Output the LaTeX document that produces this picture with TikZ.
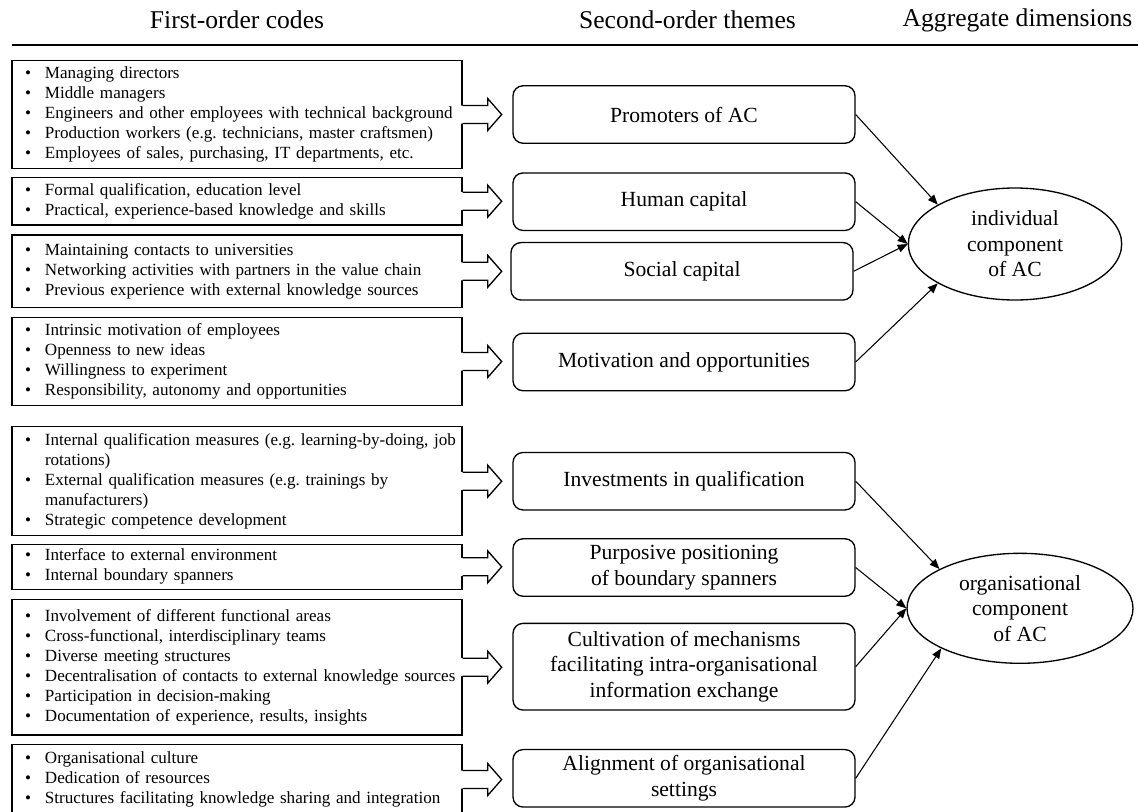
\documentclass[tikz,border=0pt]{standalone}
\usepackage{fontspec}
\setmainfont{Liberation Serif}
\usetikzlibrary{arrows.meta,calc,shapes.geometric}
\frenchspacing
\newcommand\bl[1]{\makebox[15pt][l]{\textbullet}\mbox{#1}}
\newcommand\cont[1]{\hspace*{15pt}\mbox{#1}}
\tikzset{
  codebox/.style={draw, line width=1pt, rectangle, minimum width=337.5pt,
    inner xsep=9.75pt, inner ysep=0pt, text width=318pt, align=left,
    font=\fontsize{12.8}{15}\selectfont},
  themebox/.style={draw, line width=1pt, rounded corners=7.5pt, minimum width=256.5pt,
    minimum height=43.1pt, inner sep=0pt, align=center,
    font=\fontsize{16.2}{19.2}\selectfont},
  dimell/.style={draw, line width=1pt, ellipse, inner sep=0pt, align=center,
    font=\fontsize{16.2}{19.2}\selectfont},
  header/.style={font=\fontsize{19.2}{23}\selectfont, inner sep=0pt},
  conn/.style={line width=0.8pt, -{Triangle[length=7.5pt,width=6pt]}},
  blk/.style={line width=1pt, line join=miter},
}
\newcommand\blockarrow[1]{%
  \fill[white] ($(#1.east)+(-1.5,-9)$) -- ++(26.5,0) -- ++(0,-7) -- ++(14,16)
     -- ++(-14,16) -- ++(0,-7) -- ++(-26.5,0) -- cycle;
  \draw[blk] ($(#1.east)+(0,-9)$) -- ++(25,0) -- ++(0,-7) -- ++(14,16)
     -- ++(-14,16) -- ++(0,-7) -- ++(-25,0);
}
\begin{document}
\begin{tikzpicture}[x=0.75pt,y=-0.75pt]
\useasboundingbox (0,0) rectangle (1138,811);

% headers
\node[header] (h1) at (237,20) {First-order codes};
\node[header] (h2) at (687.5,20) {Second-order themes};
\node[header] (h3) at (1017.5,20) {Aggregate dimensions};
\draw[line width=1.2pt] (12,45) -- (1138,45);

% first-order codes
\node[codebox, minimum height=80.7pt] (c1) at (237,114.5) {%
  \bl{Managing directors}\\
  \bl{Middle managers}\\
  \bl{Engineers and other employees with technical background}\\
  \bl{Production workers (e.g. technicians, master craftsmen)}\\
  \bl{Employees of sales, purchasing, IT departments, etc.}};
\node[codebox, minimum height=35.8pt] (c2) at (237,201.2) {%
  \bl{Formal qualification, education level}\\
  \bl{Practical, experience-based knowledge and skills}};
\node[codebox, minimum height=54.5pt] (c3) at (237,271.3) {%
  \bl{Maintaining contacts to universities}\\
  \bl{Networking activities with partners in the value chain}\\
  \bl{Previous experience with external knowledge sources}};
\node[codebox, minimum height=66.3pt] (c4) at (237,361.5) {%
  \bl{Intrinsic motivation of employees}\\
  \bl{Openness to new ideas}\\
  \bl{Willingness to experiment}\\
  \bl{Responsibility, autonomy and opportunities}};
\node[codebox, minimum height=81.75pt] (c5) at (237,481.2) {%
  \bl{Internal qualification measures (e.g. learning-by-doing, job}\\
  \cont{rotations)}\\
  \bl{External qualification measures (e.g. trainings by}\\
  \cont{manufacturers)}\\
  \bl{Strategic competence development}};
\node[codebox, minimum height=33.75pt] (c6) at (237,566.8) {%
  \bl{Interface to external environment}\\
  \bl{Internal boundary spanners}};
\node[codebox, minimum height=101.8pt] (c7) at (237,667.2) {%
  \bl{Involvement of different functional areas}\\
  \bl{Cross-functional, interdisciplinary teams}\\
  \bl{Diverse meeting structures}\\
  \bl{Decentralisation of contacts to external knowledge sources}\\
  \bl{Participation in decision-making}\\
  \bl{Documentation of experience, results, insights}};
\node[codebox, minimum height=52.8pt] (c8) at (237,779.5) {%
  \bl{Organisational culture}\\
  \bl{Dedication of resources}\\
  \bl{Structures facilitating knowledge sharing and integration}};

% second-order themes
\node[themebox] (t1) at (684,114.5) {Promoters of AC};
\node[themebox] (t2) at (684,201.7) {Human capital};
\node[themebox] (t3) at (682,271.3) {Social capital};
\node[themebox] (t4) at (684,362) {Motivation and opportunities};
\node[themebox] (t5) at (684,481.2) {Investments in qualification};
\node[themebox] (t6) at (684,567.5) {Purposive positioning\\of boundary spanners};
\node[themebox, minimum height=65pt] (t7) at (684,666.7) {Cultivation of mechanisms\\facilitating intra-organisational\\information exchange};
\node[themebox] (t8) at (684,778.3) {Alignment of organisational\\settings};

% aggregate dimensions
\node[dimell, minimum width=160pt, minimum height=84pt] (ind) at (1015,244) {individual\\component\\of AC};
\node[dimell, minimum width=169.5pt, minimum height=82.5pt] (org) at (1020,608.3) {organisational\\component\\of AC};

% block arrows
\blockarrow{c1}
\blockarrow{c2}
\blockarrow{c3}
\blockarrow{c4}
\blockarrow{c5}
\blockarrow{c6}
\blockarrow{c7}
\blockarrow{c8}

% connectors
\draw[conn] (t1.east) -- (ind.153);
\draw[conn] (t2.east) -- (ind.west);
\draw[conn] (t3.east) -- (ind.west);
\draw[conn] (t4.east) -- (ind.207);
\draw[conn] (t5.east) -- (org.154);
\draw[conn] (t6.east) -- (org.west);
\draw[conn] (t7.east) -- (org.west);
\draw[conn] (t8.east) -- (org.207);
\end{tikzpicture}
\end{document}
